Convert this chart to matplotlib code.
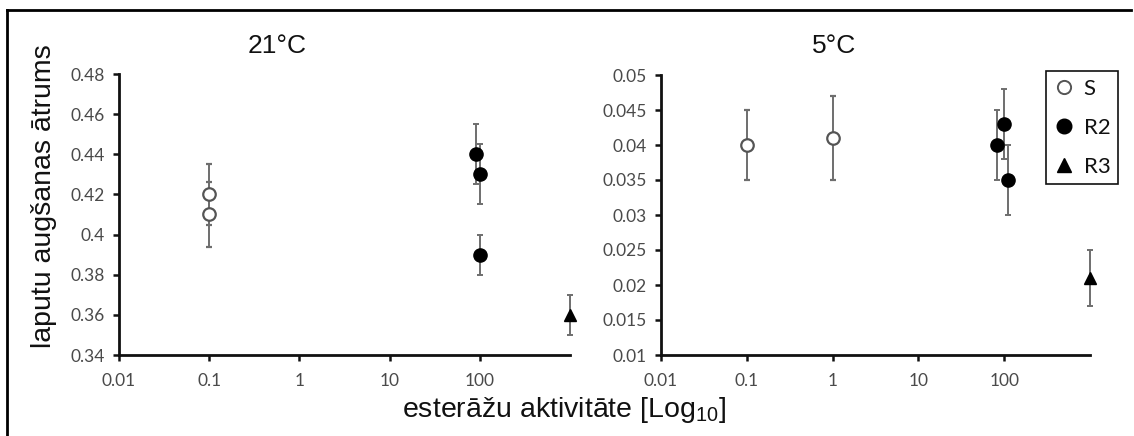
import matplotlib
matplotlib.use("Agg")
import matplotlib.pyplot as plt
from matplotlib.lines import Line2D
from matplotlib.ticker import FixedLocator, FixedFormatter, NullLocator

plt.rcParams["mathtext.fontset"] = "custom"
plt.rcParams["mathtext.rm"] = "Liberation Sans"
plt.rcParams["mathtext.it"] = "Liberation Sans"
plt.rcParams["mathtext.default"] = "regular"

# ---- data ----
titles = ["21°C", "5°C"]
x_ticks = [0.01, 0.1, 1, 10, 100]
x_ticklabels = ["0.01", "0.1", "1", "10", "100"]

left_yticks = [0.34, 0.36, 0.38, 0.40, 0.42, 0.44, 0.46, 0.48]
left_yticklabels = ["0.34", "0.36", "0.38", "0.4", "0.42", "0.44", "0.46", "0.48"]
right_yticks = [0.01, 0.015, 0.02, 0.025, 0.03, 0.035, 0.04, 0.045, 0.05]
right_yticklabels = ["0.01", "0.015", "0.02", "0.025", "0.03", "0.035", "0.04", "0.045", "0.05"]

left_S_x = [0.1, 0.1]
left_S_y = [0.42, 0.41]
left_S_err = [0.015, 0.016]
left_R2_x = [91, 100, 100]
left_R2_y = [0.44, 0.43, 0.39]
left_R2_err = [0.015, 0.015, 0.010]
left_R3_x = [1000]
left_R3_y = [0.36]
left_R3_err = [0.010]

right_S_x = [0.1, 1]
right_S_y = [0.040, 0.041]
right_S_err = [0.005, 0.006]
right_R2_x = [82, 100, 110]
right_R2_y = [0.040, 0.043, 0.035]
right_R2_err = [0.005, 0.005, 0.005]
right_R3_x = [1000]
right_R3_y = [0.021]
right_R3_err = [0.004]

legend_labels = ["S", "R2", "R3"]

W, H = 1134, 436
fig = plt.figure(figsize=(W / 100, H / 100), dpi=100)
fig.patch.set_facecolor("white")

def fx(px):
    return px / W

def fy(py):
    return 1 - py / H

ax1 = fig.add_axes([fx(119), fy(355), fx(570 - 119), (355 - 74) / H])
ax2 = fig.add_axes([fx(661), fy(355), fx(1090 - 661), (355 - 75) / H])

err_color = "#6e6e6e"
tick_color = "#4a4a4a"

def draw(ax, sx, sy, se, rx, ry, re, tx, ty, te):
    kw = dict(ls="none", ecolor=err_color, elinewidth=1.4, capsize=2.2,
              capthick=1.4, clip_on=False, zorder=3)
    ax.errorbar(sx, sy, yerr=se, marker="o", ms=9, mfc="white", mec="#555555",
                mew=1.6, **kw)
    ax.errorbar(rx, ry, yerr=re, marker="o", ms=9.5, mfc="black", mec="black", **kw)
    ax.errorbar(tx, ty, yerr=te, marker="^", ms=9, mfc="black", mec="black", **kw)

draw(ax1, left_S_x, left_S_y, left_S_err, left_R2_x, left_R2_y, left_R2_err,
     left_R3_x, left_R3_y, left_R3_err)
draw(ax2, right_S_x, right_S_y, right_S_err, right_R2_x, right_R2_y, right_R2_err,
     right_R3_x, right_R3_y, right_R3_err)

for ax, yt, ytl, ylim in [(ax1, left_yticks, left_yticklabels, (0.34, 0.48)),
                          (ax2, right_yticks, right_yticklabels, (0.01, 0.05))]:
    ax.set_xscale("log")
    ax.set_xlim(0.01, 1000)
    ax.set_ylim(*ylim)
    ax.xaxis.set_major_locator(FixedLocator(x_ticks))
    ax.xaxis.set_major_formatter(FixedFormatter(x_ticklabels))
    ax.xaxis.set_minor_locator(NullLocator())
    ax.yaxis.set_major_locator(FixedLocator(yt))
    ax.yaxis.set_major_formatter(FixedFormatter(ytl))
    for s in ["top", "right"]:
        ax.spines[s].set_visible(False)
    for s in ["left", "bottom"]:
        ax.spines[s].set_linewidth(2.0)
        ax.spines[s].set_color("#111111")
    ax.tick_params(axis="both", direction="out", length=4, width=1.8,
                   color="#111111", labelsize=12.5, labelcolor=tick_color)
    ax.tick_params(axis="x", pad=9)
    ax.tick_params(axis="y", pad=6)
    for lab in ax.get_xticklabels() + ax.get_yticklabels():
        lab.set_fontfamily("Lato")
    ax.patch.set_alpha(0)

# titles
fig.text(fx(277), fy(46), titles[0], ha="center", va="center",
         fontsize=19, family="Liberation Sans", color="#111111")
fig.text(fx(834), fy(46), titles[1], ha="center", va="center",
         fontsize=19, family="Liberation Sans", color="#111111")

# axis labels
fig.text(fx(44), fy(196), "laputu augšanas ātrums", rotation=90, ha="center",
         va="center", fontsize=20.5, family="Liberation Sans", color="#111111")
fig.text(fx(564), fy(410), r"esterāžu aktivitāte [Log$_{10}$]", ha="center",
         va="center", fontsize=20.5, family="Liberation Sans", color="#111111")

# legend
handles = [
    Line2D([], [], ls="none", marker="o", ms=9.5, mfc="white", mec="#555555", mew=1.4),
    Line2D([], [], ls="none", marker="o", ms=10.5, mfc="black", mec="black"),
    Line2D([], [], ls="none", marker="^", ms=10, mfc="black", mec="black"),
]
leg = fig.legend(handles, legend_labels, loc="upper left",
                 bbox_to_anchor=(fx(1046), fy(71)), frameon=True, fancybox=False,
                 edgecolor="#111111", framealpha=1, borderpad=0.35,
                 labelspacing=0.85, handlelength=0.9, handletextpad=0.45,
                 borderaxespad=0, prop={"family": "Lato", "size": 16})
leg.get_frame().set_linewidth(1.2)
for t in leg.get_texts():
    t.set_color("#111111")

# figure border (left and top)
fig.add_artist(Line2D([fx(7), fx(7)], [fy(10), fy(436)], color="black", lw=2,
                      transform=fig.transFigure))
fig.add_artist(Line2D([fx(7), fx(1131)], [fy(10), fy(10)], color="black", lw=2,
                      transform=fig.transFigure))

fig.savefig("out.png", dpi=100, facecolor="white")
